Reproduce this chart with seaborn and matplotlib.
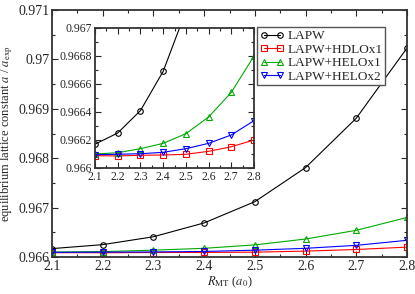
import matplotlib
matplotlib.use("Agg")
import matplotlib.pyplot as plt
import seaborn as sns
import pandas as pd
from matplotlib.ticker import MultipleLocator, FormatStrFormatter

r_mt = [2.1, 2.2, 2.3, 2.4, 2.5, 2.6, 2.7, 2.8]
lapw = [0.96617, 0.96625, 0.96641, 0.96669, 0.96712, 0.96781, 0.96881, 0.97023]
hdlox1 = [0.966088, 0.966086, 0.966091, 0.966093, 0.966098, 0.966119, 0.966152, 0.966200]
helox1 = [0.966100, 0.966109, 0.966138, 0.966176, 0.966245, 0.966364, 0.966540, 0.966800]
helox2 = [0.966095, 0.966098, 0.966102, 0.966112, 0.966138, 0.966176, 0.966236, 0.966338]

series_names = ["LAPW", "LAPW+HDLOx1", "LAPW+HELOx1", "LAPW+HELOx2"]
series_vals = [lapw, hdlox1, helox1, helox2]
colors = ["#000000", "#ff0000", "#00aa00", "#0000ff"]
markers = ["o", "s", "^", "v"]

sns.set_theme(style="ticks")
plt.rcParams["font.family"] = ["Liberation Serif", "DejaVu Serif"]
plt.rcParams["mathtext.fontset"] = "stix"

rows = []
for name, vals in zip(series_names, series_vals):
    for x, y in zip(r_mt, vals):
        rows.append({"r": x, "a": y, "series": name})
df = pd.DataFrame(rows)

fig = plt.figure(figsize=(4.15, 2.94), dpi=100)
ax = fig.add_axes([52/415, 1-257/294, (407-52)/415, (257-10)/294])
ins = fig.add_axes([95/415, 1-168/294, (254-95)/415, 140/294])

def draw(a, ms):
    for name, c, m in zip(series_names, colors, markers):
        sub = df[df["series"] == name]
        sns.lineplot(data=sub, x="r", y="a", ax=a, color=c, marker=m,
                     markersize=ms, markerfacecolor="none", markeredgecolor=c,
                     markeredgewidth=0.8, linewidth=0.8, label=name, legend=False)

draw(ax, 4)
draw(ins, 4)

for a in (ax, ins):
    a.tick_params(which="both", direction="in", top=True, right=True)
    a.tick_params(which="major", length=4, width=0.8)
    a.tick_params(which="minor", length=2, width=0.8)
    a.xaxis.set_major_locator(MultipleLocator(0.1))
    a.xaxis.set_minor_locator(MultipleLocator(0.05))
    a.xaxis.set_major_formatter(FormatStrFormatter("%g"))
    a.yaxis.set_major_formatter(FormatStrFormatter("%g"))
    a.set_xlim(2.1, 2.8)
    for s in a.spines.values():
        s.set_linewidth(1.3)
        s.set_color("#333333")

ax.set_ylim(0.966, 0.971)
ax.yaxis.set_major_locator(MultipleLocator(0.001))
ax.yaxis.set_minor_locator(MultipleLocator(0.0005))
ax.tick_params(labelsize=10, pad=2)
ax.set_xlabel(r"$R_{\rm MT}$ ($a_0$)", fontsize=9, labelpad=1)
ax.set_ylabel(r"equilibrium lattice constant $a$ / $a_{\rm exp}$", fontsize=9, labelpad=2)

ins.set_ylim(0.966, 0.967)
ins.yaxis.set_major_locator(MultipleLocator(0.0002))
ins.yaxis.set_minor_locator(MultipleLocator(0.0001))
ins.tick_params(labelsize=8.5, pad=2)
ins.set_xlabel("")
ins.set_ylabel("")

handles, labels = ax.get_legend_handles_labels()
leg = ax.legend(handles, labels, loc="upper left", bbox_to_anchor=(0.578, 0.93),
                fontsize=9.5, numpoints=2, handlelength=1.8, handletextpad=0.3,
                borderpad=0.2, labelspacing=0.1, borderaxespad=0, fancybox=False,
                framealpha=1)
leg.get_frame().set_edgecolor("#555555")
leg.get_frame().set_linewidth(1.0)

fig.savefig("out.png", dpi=100)
